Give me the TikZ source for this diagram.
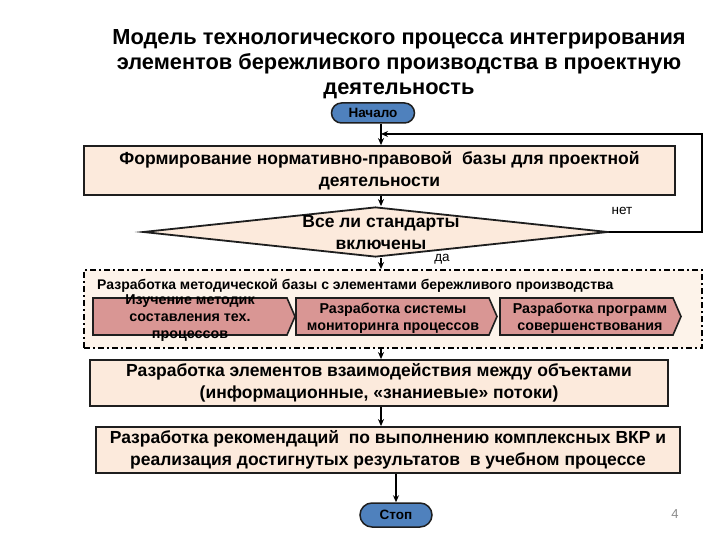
\documentclass[tikz,border=0pt]{standalone}
\usepackage{fontspec}
\setmainfont{Liberation Sans}
\usetikzlibrary{shapes.geometric,arrows.meta}
\definecolor{boxfill}{RGB}{252,234,220}
\definecolor{grpfill}{RGB}{253,243,234}
\definecolor{chevfill}{RGB}{217,150,148}
\definecolor{termfill}{RGB}{79,129,189}
\definecolor{edgec}{RGB}{30,30,30}
\begin{document}
\begin{tikzpicture}[x=1pt,y=-1pt,
  procbox/.style={draw=edgec, line width=1.8pt, fill=boxfill, rectangle, inner sep=0pt, align=center,
    font=\bfseries\fontsize{17.5}{22}\selectfont},
  termbox/.style={draw=edgec, line width=1.5pt, fill=termfill, rectangle, rounded corners=10pt, inner sep=0pt,
    font=\bfseries\fontsize{13.5}{15}\selectfont},
  chev/.style={draw=edgec, line width=1.6pt, fill=chevfill},
  chevtxt/.style={font=\bfseries\fontsize{14.3}{17}\selectfont, align=center, inner sep=0pt},
  arr/.style={-{Stealth[length=7pt,width=6pt]}, line width=1.2pt, draw=black},
  smalltxt/.style={font=\fontsize{13.5}{15}\selectfont, inner sep=0pt},
  bigtxt/.style={font=\bfseries\fontsize{17.5}{22}\selectfont, align=center, inner sep=0pt}]
\useasboundingbox (0,0) rectangle (720,540);
\fill[white] (0,0) rectangle (720,540);

\node[font=\bfseries\fontsize{21.8}{25}\selectfont, align=center, inner sep=0pt] (title) at (399,64)
  {Модель технологического процесса интегрирования\\элементов бережливого производства в проектную\\деятельность};

\coordinate (ax) at (381,0);
\coordinate (lp) at (702,134);

\node[termbox, minimum width=83pt, minimum height=20pt] (start) at (373,113) {Начало};

\node[procbox, minimum width=591pt, minimum height=49pt] (f1) at (379.5,170.5)
  {Формирование нормативно-правовой\ \ базы для проектной\\деятельности};

\node[diamond, draw=edgec, line width=1.8pt, fill=boxfill, minimum width=465pt, minimum height=50pt, inner sep=0pt]
  (dia) at (375.5,232) {};
\node[bigtxt] (diat) at (381,233) {Все ли стандарты\\включены};

\node[smalltxt] (no) at (622,211) {нет};
\node[smalltxt] (yes) at (442,259) {да};

\node[draw=black, line width=1.8pt, dash pattern=on 6pt off 3pt on 2pt off 3pt, fill=grpfill,
  minimum width=618pt, minimum height=78pt, inner sep=0pt] (grp) at (393,309) {};
\node[anchor=west, font=\bfseries\fontsize{14}{16}\selectfont, inner sep=0pt] (gt) at (97,286)
  {Разработка методической базы с элементами бережливого производства};

\draw[chev] (93,298) -- (287,298) -- (295,316.5) -- (287,335) -- (93,335) -- cycle;
\draw[chev] (296,298) -- (489,298) -- (497,316.5) -- (489,335) -- (296,335) -- cycle;
\draw[chev] (500,298) -- (673,298) -- (681,316.5) -- (673,335) -- (500,335) -- cycle;
\node[chevtxt] (c1) at (190,318) {Изучение методик\\составления тех.\\процессов};
\node[chevtxt] (c2) at (393,318) {Разработка системы\\мониторинга процессов};
\node[chevtxt] (c3) at (590,318) {Разработка программ\\совершенствования};

\node[procbox, minimum width=578pt, minimum height=46pt] (f3) at (379,383)
  {Разработка элементов взаимодействия между объектами\\(информационные, «знаниевые» потоки)};

\node[procbox, minimum width=584pt, minimum height=46pt] (f4) at (388,450)
  {Разработка рекомендаций\ \ по выполнению комплексных ВКР и\\реализация достигнутых результатов\ \ в учебном процессе};

\node[termbox, minimum width=72pt, minimum height=24pt, rounded corners=12pt] (stop) at (396,515) {Стоп};

\node[font=\fontsize{13}{15}\selectfont, text=black!45, inner sep=0pt] (pg) at (675,514) {4};

\draw[arr] (start.south -| ax) -- (f1.north -| ax);
\draw[arr] (f1.south -| ax) -- (dia.north -| ax);
\draw[arr] (dia.east) -- (dia.east -| lp) -- (lp) -- (lp -| ax);
\draw[arr] (dia.south -| ax) -- (grp.north -| ax);
\draw[arr] (grp.south -| ax) -- (f3.north -| ax);
\draw[arr] (f3.south -| ax) -- (f4.north -| ax);
\draw[arr] (f4.south -| stop.north) -- (stop.north);
\end{tikzpicture}
\end{document}
